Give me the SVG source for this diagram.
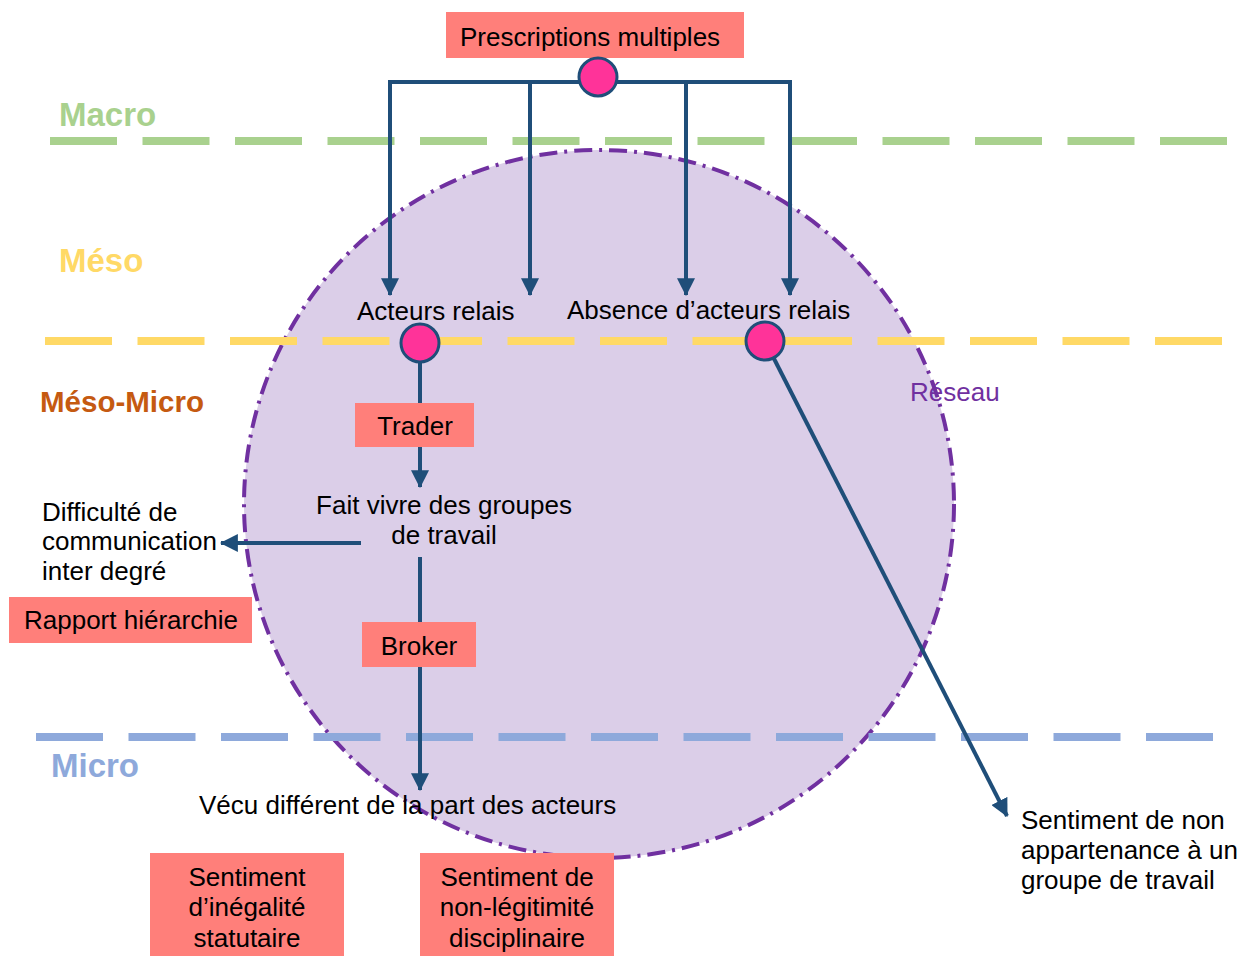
<svg xmlns="http://www.w3.org/2000/svg" width="1240" height="956" viewBox="0 0 1240 956">
<style>
text{font-family:"Liberation Sans",Arial,Helvetica,sans-serif;font-size:26px;fill:#000}
.lvl{font-weight:bold;font-size:33px}
.box{fill:#FF7F7A}
.dash{fill:none;stroke-width:8;stroke-dasharray:67 25.5}
.con{fill:none;stroke:#1F4E79;stroke-width:4}
.dot{fill:#FF3399;stroke:#1F4E79;stroke-width:3}
.mid{text-anchor:middle}
</style>
<defs>
<marker id="arr" markerUnits="userSpaceOnUse" markerWidth="18" markerHeight="18" viewBox="0 0 16 16" refX="15" refY="8" orient="auto">
<path d="M0,0 L16,8 L0,16 z" fill="#1F4E79"/>
</marker>
</defs>
<rect width="1240" height="956" fill="#fff"/>
<g id="reseau">
<ellipse cx="599" cy="504" rx="355" ry="354" fill="#DBCEE8" stroke="#7030A0" stroke-width="4" stroke-dasharray="18 7 3 7"/>
<text x="910" y="401" style="fill:#7030A0">Réseau</text>
</g>
<g id="levels">
<line class="dash" x1="50" y1="141" x2="1227" y2="141" stroke="#A9D18E"/>
<line class="dash" x1="45" y1="341" x2="1222" y2="341" stroke="#FFD966"/>
<line class="dash" x1="36" y1="737" x2="1213" y2="737" stroke="#8EA9DB"/>
<text class="lvl" x="59" y="126" style="fill:#A9D18E">Macro</text>
<text class="lvl" x="59" y="272" style="fill:#FFD966">Méso</text>
<text class="lvl" x="40" y="412" style="fill:#C55A11;font-size:29.5px">Méso-Micro</text>
<text class="lvl" x="51" y="777" style="fill:#8EA9DB">Micro</text>
</g>
<g id="connectors">
<polyline class="con" points="390,295 390,82 790,82 790,295" marker-end="url(#arr)"/>
<line class="con" x1="390" y1="90" x2="390" y2="295" marker-end="url(#arr)"/>
<line class="con" x1="530" y1="82" x2="530" y2="295" marker-end="url(#arr)"/>
<line class="con" x1="686" y1="82" x2="686" y2="295" marker-end="url(#arr)"/>
<line class="con" x1="420" y1="343" x2="420" y2="487" marker-end="url(#arr)"/>
<line class="con" x1="361" y1="543" x2="221" y2="543" marker-end="url(#arr)"/>
<line class="con" x1="420" y1="557" x2="420" y2="790" marker-end="url(#arr)"/>
<line class="con" x1="765" y1="341" x2="1007" y2="816" marker-end="url(#arr)"/>
</g>
<g id="prescriptions">
<rect class="box" x="446" y="12" width="298" height="46"/>
<text x="460" y="46">Prescriptions multiples</text>
<circle class="dot" cx="598" cy="77" r="19"/>
</g>
<g id="acteurs-relais">
<text x="357" y="320">Acteurs relais</text>
<circle class="dot" cx="420" cy="343" r="19"/>
</g>
<g id="absence-acteurs-relais">
<text x="567" y="319">Absence d’acteurs relais</text>
<circle class="dot" cx="765" cy="341" r="19"/>
</g>
<g id="trader">
<rect class="box" x="355" y="403" width="119" height="44"/>
<text class="mid" x="415" y="435">Trader</text>
</g>
<g id="fait-vivre">
<text class="mid" x="444" y="514">Fait vivre des groupes</text>
<text class="mid" x="444" y="544">de travail</text>
</g>
<g id="difficulte">
<text x="42" y="521">Difficulté de</text>
<text x="42" y="550">communication</text>
<text x="42" y="580">inter degré</text>
</g>
<g id="rapport-hierarchie">
<rect class="box" x="9" y="597" width="243" height="46"/>
<text x="24" y="629">Rapport hiérarchie</text>
</g>
<g id="broker">
<rect class="box" x="362" y="622" width="114" height="45"/>
<text class="mid" x="419" y="655">Broker</text>
</g>
<g id="vecu">
<text x="199" y="814">Vécu différent de la part des acteurs</text>
</g>
<g id="inegalite">
<rect class="box" x="150" y="853" width="194" height="103"/>
<text class="mid" x="247" y="886">Sentiment</text>
<text class="mid" x="247" y="916">d’inégalité</text>
<text class="mid" x="247" y="947">statutaire</text>
</g>
<g id="non-legitimite">
<rect class="box" x="420" y="853" width="194" height="103"/>
<text class="mid" x="517" y="886">Sentiment de</text>
<text class="mid" x="517" y="916">non-légitimité</text>
<text class="mid" x="517" y="947">disciplinaire</text>
</g>
<g id="non-appartenance">
<text x="1021" y="829">Sentiment de non</text>
<text x="1021" y="859">appartenance à un</text>
<text x="1021" y="889">groupe de travail</text>
</g>
</svg>
